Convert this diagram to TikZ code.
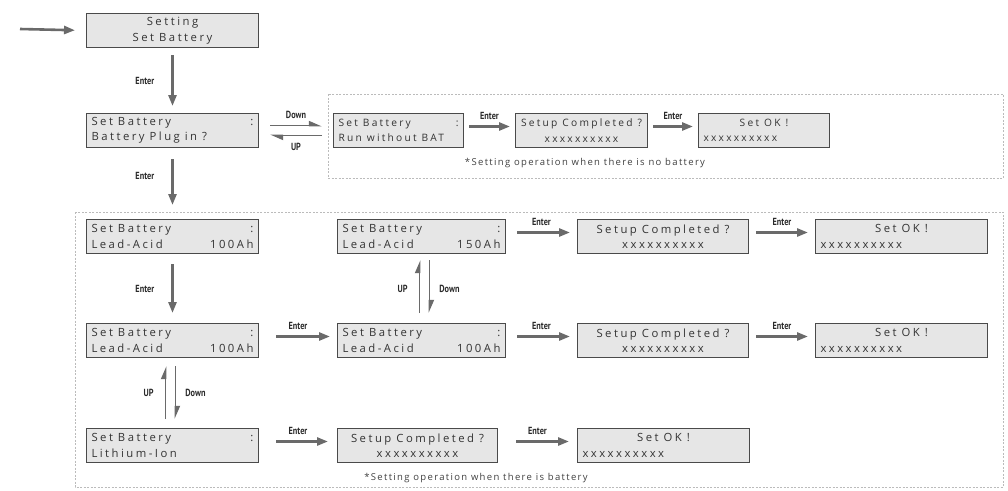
\documentclass[tikz,border=0pt]{standalone}
\usepackage{fontspec}
\setmainfont{Open Sans}
\newfontfamily\boxfont{Open Sans}[LetterSpace=22]
\newfontfamily\capfont{Open Sans}[LetterSpace=14]
\newfontfamily\lblfont{PT Sans}[FakeStretch=0.8]
\newcommand\wsp{\hspace{5pt}}
\usetikzlibrary{arrows.meta,calc}
\definecolor{boxc}{HTML}{E6E6E6}
\definecolor{bordc}{HTML}{4A4A4A}
\definecolor{arrc}{HTML}{6A6A6A}
\definecolor{framec}{HTML}{BBBBBB}
\definecolor{lblc}{HTML}{2A2A2A}
\tikzset{
  lcd/.style={draw=bordc, fill=boxc, line width=1pt, inner xsep=5pt, inner ysep=0pt,
    minimum height=34pt, anchor=north west, align=left,
    font=\boxfont\fontsize{11.3}{15.5}\selectfont, text=black!80},
  lcdc/.style={lcd, align=center},
  lcdsm/.style={lcd, font=\boxfont\fontsize{10.2}{15.5}\selectfont},
  lcdsmc/.style={lcdsm, align=center},
  enterarr/.style={draw=arrc, line width=2.6pt, -{Triangle[length=11pt,width=8pt]}},
  harp/.style={draw=arrc, line width=1.8pt, -{Triangle[harpoon,length=11pt,width=9pt]}},
  lbl/.style={font=\lblfont\bfseries\fontsize{10.3}{12}\selectfont, text=lblc, inner sep=1pt},
  captext/.style={font=\capfont\fontsize{9.5}{11}\selectfont, text=black!75, inner sep=0pt},
  frame/.style={draw=framec, line width=0.6pt, dash pattern=on 2pt off 1.5pt},
}
\begin{document}
\begin{tikzpicture}[x=1pt,y=-1pt]
\useasboundingbox (0,0) rectangle (1008,490);
% frames
\draw[frame] (328,94) rectangle (1003,178);
\draw[frame] (75,212) rectangle (1003,487);

% entry
\coordinate (start) at (20,29);
\node[lcdc, text width=162pt] (setting) at (86,13) {Setting\\Set\wsp Battery};
\draw[enterarr, shorten >=11pt] (start) -- (setting.west);

\node[lcd, text width=162pt] (plug) at (86,113) {Set\wsp Battery\hfill:\\Battery\wsp Plug\wsp in\wsp ?};
\draw[enterarr, shorten <=7pt, shorten >=7pt] (setting.south) -- node[lbl, left=16pt] (e1) {Enter} (plug.north);

% no battery row
\node[lcdsm, text width=120pt] (run) at (333,113) {Set\wsp Battery\hfill:\\Run\wsp without\wsp BAT};
\node[lcdsmc, text width=122pt] (sc0) at (515,113) {Setup\wsp Completed\wsp ?\\xxxxxxxxxx};
\node[lcdsm, text width=121pt] (ok0) at (698,113) {\hspace*{\fill}Set\wsp OK\wsp !\hspace*{\fill}\null\\xxxxxxxxxx};
\draw[harp, shorten <=11pt, shorten >=11pt] ([yshift=5pt]plug.east) -- node[lbl, above=5pt] (dn0) {Down} ([yshift=5pt]run.west);
\draw[harp, shorten <=11pt, shorten >=11pt] ([yshift=-5pt]run.west) -- node[lbl, below=6pt] (up0) {UP} ([yshift=-5pt]plug.east);
\draw[enterarr, shorten <=5pt, shorten >=5pt] ([yshift=4pt]run.east) -- node[lbl, above=5pt] (e2) {Enter} ([yshift=4pt]sc0.west);
\draw[enterarr, shorten <=5pt, shorten >=5pt] ([yshift=4pt]sc0.east) -- node[lbl, above=5pt] (e3) {Enter} ([yshift=4pt]ok0.west);
\node[captext] (cap0) at (585,163) {*Setting operation when there is no battery};

% battery rows
\node[lcd, text width=162pt] (la1) at (86,219) {Set\wsp Battery\hfill:\\Lead-Acid\hfill100Ah};
\draw[enterarr, shorten <=11pt, shorten >=14pt] (plug.south) -- node[lbl, left=16pt, pos=0.4] (e4) {Enter} (la1.north);

\node[lcd, text width=158pt] (la150) at (337,219) {Set\wsp Battery\hfill:\\Lead-Acid\hfill150Ah};
\node[lcdc, text width=161pt] (sc1) at (577,219) {Setup\wsp Completed\wsp ?\\xxxxxxxxxx};
\node[lcd, text width=162pt] (ok1) at (815,219) {\hspace*{\fill}Set\wsp OK\wsp !\hspace*{\fill}\null\\xxxxxxxxxx};
\draw[enterarr, shorten <=11pt, shorten >=7pt] ([yshift=4pt]la150.east) -- node[lbl, above=5pt] (e5) {Enter} ([yshift=4pt]sc1.west);
\draw[enterarr, shorten <=7pt, shorten >=7pt] ([yshift=4pt]sc1.east) -- node[lbl, above=5pt] (e6) {Enter} ([yshift=4pt]ok1.west);

\node[lcd, text width=162pt] (la2) at (86,323) {Set\wsp Battery\hfill:\\Lead-Acid\hfill100Ah};
\draw[enterarr, shorten <=10pt, shorten >=10pt] (la1.south) -- node[lbl, left=16pt] (e7) {Enter} (la2.north);

\node[lcd, text width=158pt] (la100) at (337,323) {Set\wsp Battery\hfill:\\Lead-Acid\hfill100Ah};
\node[lcdc, text width=161pt] (sc2) at (577,323) {Setup\wsp Completed\wsp ?\\xxxxxxxxxx};
\node[lcd, text width=162pt] (ok2) at (815,323) {\hspace*{\fill}Set\wsp OK\wsp !\hspace*{\fill}\null\\xxxxxxxxxx};
\draw[enterarr, shorten <=17pt, shorten >=7pt] ([yshift=4pt]la2.east) -- node[lbl, above=5pt] (e8) {Enter} ([yshift=4pt]la100.west);
\draw[enterarr, shorten <=11pt, shorten >=7pt] ([yshift=4pt]la100.east) -- node[lbl, above=5pt] (e9) {Enter} ([yshift=4pt]sc2.west);
\draw[enterarr, shorten <=7pt, shorten >=7pt] ([yshift=4pt]sc2.east) -- node[lbl, above=5pt] (e10) {Enter} ([yshift=4pt]ok2.west);

\draw[harp, shorten <=10pt, shorten >=6pt] ([xshift=-2pt]la100.north) -- node[lbl, left=10pt] (up1) {UP} ([xshift=-2pt]la150.south);
\draw[harp, shorten <=6pt, shorten >=10pt] ([xshift=8pt]la150.south) -- node[lbl, right=8pt] (dn1) {Down} ([xshift=8pt]la100.north);

\node[lcd, text width=162pt] (li) at (86,428) {Set\wsp Battery\hfill:\\Lithium-Ion};
\node[lcdc, text width=150pt] (sc3) at (337,428) {Setup\wsp Completed\wsp ?\\xxxxxxxxxx};
\node[lcd, text width=162pt] (ok3) at (577,428) {\hspace*{\fill}Set\wsp OK\wsp !\hspace*{\fill}\null\\xxxxxxxxxx};
\draw[enterarr, shorten <=17pt, shorten >=9pt] ([yshift=4pt]li.east) -- node[lbl, above=5pt] (e11) {Enter} ([yshift=4pt]sc3.west);
\draw[enterarr, shorten <=18pt, shorten >=8pt] ([yshift=4pt]sc3.east) -- node[lbl, above=5pt] (e12) {Enter} ([yshift=4pt]ok3.west);

\draw[harp, shorten <=9pt, shorten >=8pt] ([xshift=-7pt]li.north) -- node[lbl, left=10pt] (up2) {UP} ([xshift=-7pt]la2.south);
\draw[harp, shorten <=8pt, shorten >=9pt] ([xshift=3pt]la2.south) -- node[lbl, right=8pt] (dn2) {Down} ([xshift=3pt]li.north);

\node[captext] (cap1) at (476,478) {*Setting operation when there is battery};
\end{tikzpicture}
\end{document}
